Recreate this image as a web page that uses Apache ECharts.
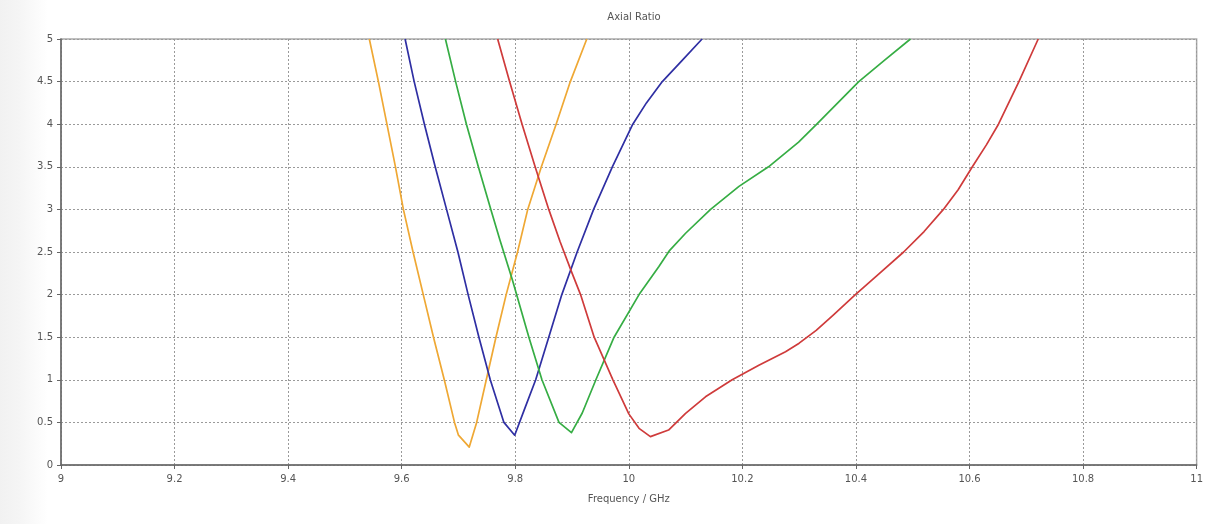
<!DOCTYPE html>
<html>
<head>
<meta charset="utf-8">
<script src="https://cdn.jsdelivr.net/npm/echarts@6/dist/echarts.min.js"></script>
<style>
html,body{margin:0;padding:0;background:#fff;}
#chart{width:1206px;height:524px;}
</style>
</head>
<body>
<div id="chart"></div>
<script>
// Data: [frequency GHz, axial ratio]
const orangeData = [[9.543,5],[9.559,4.5],[9.574,4.0],[9.589,3.5],[9.603,3.0],[9.620,2.5],[9.638,2.0],[9.656,1.5],[9.675,1.0],[9.693,0.5],[9.700,0.35],[9.719,0.21],[9.732,0.5],[9.749,1.0],[9.766,1.5],[9.784,2.0],[9.804,2.5],[9.822,3.0],[9.846,3.5],[9.872,4.0],[9.897,4.5],[9.926,5]];
const blueData = [[9.606,5],[9.622,4.5],[9.640,4.0],[9.659,3.5],[9.679,3.0],[9.699,2.5],[9.717,2.0],[9.736,1.5],[9.756,1.0],[9.780,0.5],[9.799,0.35],[9.816,0.65],[9.836,1.0],[9.859,1.5],[9.882,2.0],[9.909,2.5],[9.938,3.0],[9.971,3.5],[10.007,4.0],[10.031,4.25],[10.059,4.5],[10.094,4.75],[10.129,5]];
const greenData = [[9.677,5],[9.695,4.5],[9.714,4.0],[9.735,3.5],[9.757,3.0],[9.773,2.64],[9.795,2.17],[9.824,1.5],[9.847,1.0],[9.877,0.5],[9.899,0.38],[9.918,0.61],[9.942,1.0],[9.974,1.5],[10.018,2.0],[10.053,2.33],[10.072,2.52],[10.100,2.72],[10.144,3.0],[10.194,3.27],[10.246,3.5],[10.299,3.79],[10.331,4.0],[10.368,4.25],[10.405,4.5],[10.45,4.75],[10.496,5]];
const redData = [[9.769,5],[9.790,4.5],[9.812,4.0],[9.835,3.5],[9.859,3.0],[9.879,2.62],[9.899,2.27],[9.915,2.0],[9.939,1.5],[9.972,1.0],[10.000,0.6],[10.018,0.43],[10.038,0.333],[10.070,0.41],[10.100,0.607],[10.135,0.80],[10.182,1.0],[10.229,1.17],[10.276,1.33],[10.300,1.43],[10.330,1.58],[10.360,1.76],[10.399,2.0],[10.440,2.24],[10.484,2.5],[10.520,2.74],[10.554,3.0],[10.580,3.23],[10.605,3.5],[10.630,3.76],[10.651,4.0],[10.687,4.5],[10.721,5]];

const titleText = 'Axial Ratio';
const xName = 'Frequency / GHz';

const font = 'DejaVu Sans';
const chart = echarts.init(document.getElementById('chart'), null, {renderer: 'canvas'});

function mkSeries(data, color) {
  return {
    type: 'line',
    data: data,
    showSymbol: false,
    smooth: false,
    lineStyle: {color: color, width: 1.7, join: 'round'},
    itemStyle: {color: color},
    animation: false
  };
}

chart.setOption({
  animation: false,
  backgroundColor: '#ffffff',
  graphic: [{
    type: 'rect',
    left: 0, top: 0, z: -10, silent: true,
    shape: {width: 48, height: 524},
    style: {fill: new echarts.graphic.LinearGradient(0, 0, 1, 0, [
      {offset: 0, color: '#f1f1f1'}, {offset: 0.4, color: '#f5f5f5'}, {offset: 1, color: '#ffffff'}
    ])}
  }],
  title: {
    text: titleText,
    left: 629, top: 7,
    textAlign: 'center',
    textStyle: {fontFamily: font, fontSize: 10, fontWeight: 'normal', color: '#555'}
  },
  grid: {
    left: 61, right: 8, top: 39, bottom: 59,
    show: true,
    backgroundColor: '#ffffff',
    borderColor: '#aaa',
    borderWidth: 1.5
  },
  xAxis: {
    type: 'value',
    min: 9, max: 11, interval: 0.2,
    name: xName,
    nameLocation: 'middle',
    nameGap: 29,
    nameTextStyle: {fontFamily: font, fontSize: 10, color: '#555'},
    axisLine: {show: true, onZero: false, lineStyle: {color: '#666', width: 1.5}},
    axisTick: {show: true, inside: false, length: 4, lineStyle: {color: '#666'}},
    axisLabel: {fontFamily: font, fontSize: 10, color: '#555', margin: 9},
    splitLine: {show: true, lineStyle: {color: '#9a9a9a', type: [2, 2], width: 1}}
  },
  yAxis: {
    type: 'value',
    min: 0, max: 5, interval: 0.5,
    axisLine: {show: true, lineStyle: {color: '#666', width: 1.5}},
    axisTick: {show: true, inside: false, length: 4, lineStyle: {color: '#666'}},
    axisLabel: {fontFamily: font, fontSize: 10, color: '#555', margin: 8},
    splitLine: {show: true, lineStyle: {color: '#9a9a9a', type: [2, 2], width: 1}}
  },
  series: [
    mkSeries(orangeData, '#EFA834'),
    mkSeries(blueData, '#2F2FA3'),
    mkSeries(greenData, '#36AD44'),
    mkSeries(redData, '#CF3B3B')
  ]
});
</script>
</body>
</html>
